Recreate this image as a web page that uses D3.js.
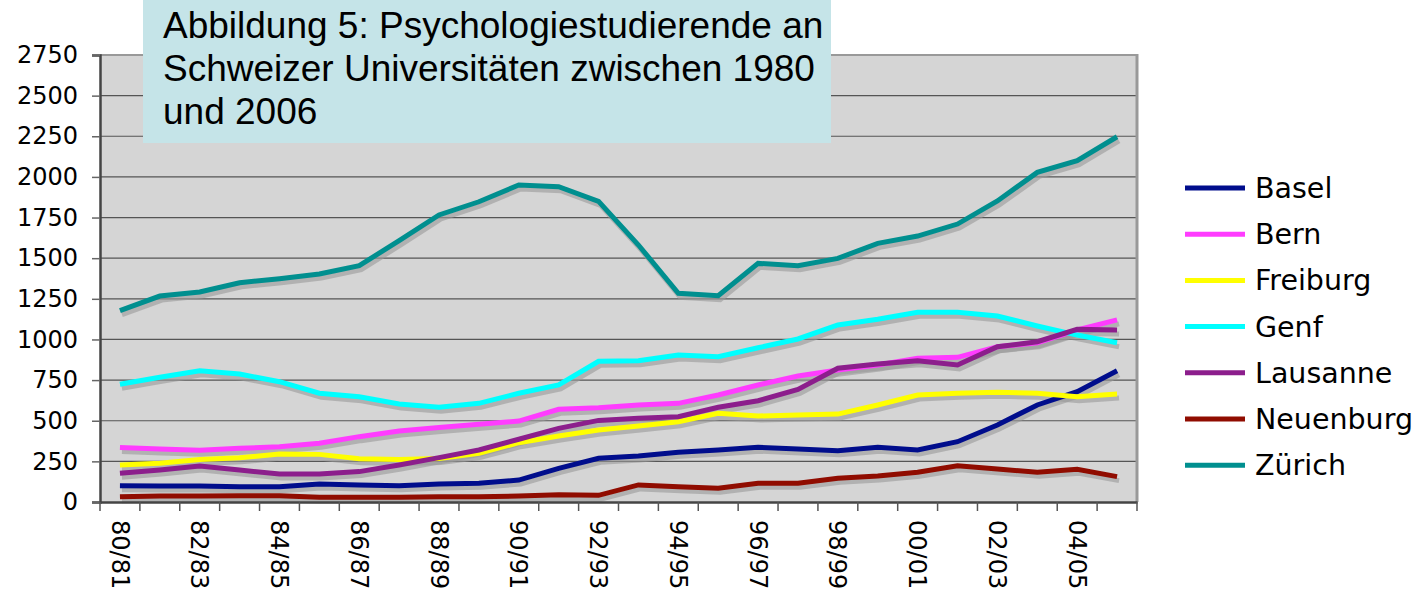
<!DOCTYPE html>
<html lang="de">
<head>
  <meta charset="UTF-8">
  <title>Psychologiestudierende</title>
  <script src="https://d3js.org/d3.v7.min.js"></script>
  <style>
    body { margin: 0; background: #fff; overflow: hidden; }
    svg { display: block; }
    .tick text { font-family: "DejaVu Sans", Verdana, sans-serif; fill: #000; }
  </style>
</head>
<body>
<svg width="1421" height="601"></svg>
<script>
// Studienjahre
const years = ["80/81","81/82","82/83","83/84","84/85","85/86","86/87","87/88","88/89","89/90",
  "90/91","91/92","92/93","93/94","94/95","95/96","96/97","97/98","98/99","99/00",
  "00/01","01/02","02/03","03/04","04/05","05/06"];

const basel     = [100, 98, 98, 94, 94, 111, 105, 100, 111, 115, 135, 207, 269, 283, 306, 320, 337, 326, 316, 337, 320, 371, 474, 597, 679, 808];
const bern      = [336, 326, 318, 330, 340, 361, 402, 437, 459, 478, 498, 570, 580, 597, 607, 658, 720, 775, 812, 843, 884, 890, 955, 980, 1058, 1120];
const freiburg  = [227, 238, 262, 272, 295, 293, 266, 262, 268, 299, 365, 406, 443, 467, 494, 546, 529, 535, 541, 597, 658, 669, 675, 669, 648, 664];
const genf      = [724, 767, 808, 787, 740, 669, 648, 603, 583, 607, 669, 720, 866, 869, 904, 894, 949, 1003, 1089, 1124, 1167, 1167, 1144, 1083, 1027, 980];
const lausanne  = [177, 197, 221, 197, 172, 172, 187, 228, 273, 320, 386, 453, 502, 515, 525, 583, 623, 693, 823, 849, 869, 843, 955, 986, 1062, 1058];
const neuenburg = [33, 37, 37, 39, 39, 29, 29, 29, 33, 33, 37, 45, 41, 105, 94, 84, 115, 115, 146, 160, 183, 223, 203, 183, 201, 156];
const zuerich   = [1177, 1267, 1292, 1349, 1374, 1403, 1454, 1608, 1766, 1847, 1950, 1940, 1850, 1581, 1284, 1269, 1468, 1454, 1499, 1591, 1636, 1710, 1852, 2028, 2100, 2247];

const yTicks = [0, 250, 500, 750, 1000, 1250, 1500, 1750, 2000, 2250, 2500, 2750];
const titleLines = ["Abbildung 5: Psychologiestudierende an", "Schweizer Universitäten zwischen 1980", "und 2006"];

const series = [
  { name: "Basel", values: basel, color: "#000d8c" },
  { name: "Bern", values: bern, color: "#ff3cff" },
  { name: "Freiburg", values: freiburg, color: "#ffff00" },
  { name: "Genf", values: genf, color: "#00ffff" },
  { name: "Lausanne", values: lausanne, color: "#8c1e8c" },
  { name: "Neuenburg", values: neuenburg, color: "#900c00" },
  { name: "Zürich", values: zuerich, color: "#008f8f" }
];

const svg = d3.select("svg");
const plotL = 100, plotR = 1137, plotT = 55, plotB = 502;

const x = d3.scaleBand().domain(years).range([plotL, plotR]);
const y = d3.scaleLinear().domain([0, 2750]).range([plotB, plotT]);

// Plotfläche
svg.append("rect")
  .attr("x", plotL).attr("y", plotT)
  .attr("width", plotR - plotL).attr("height", plotB - plotT)
  .attr("fill", "#d5d5d5");

// Gitterlinien
svg.append("g")
  .selectAll("line")
  .data(yTicks.slice(1))
  .enter().append("line")
  .attr("x1", plotL).attr("x2", plotR)
  .attr("y1", d => y(d)).attr("y2", d => y(d))
  .attr("stroke", d => d === 2750 ? "#999" : "#555")
  .attr("stroke-width", d => d === 2750 ? 2 : 1.2);

// rechter Rand
svg.append("line")
  .attr("x1", plotR).attr("x2", plotR)
  .attr("y1", plotT - 1).attr("y2", plotB)
  .attr("stroke", "#999").attr("stroke-width", 3);

const line = d3.line()
  .x((d, i) => x(years[i]) + x.bandwidth() / 2)
  .y(d => y(d));

// Schatten
svg.append("g")
  .attr("transform", "translate(2,4)")
  .selectAll("path")
  .data(series)
  .enter().append("path")
  .attr("d", d => line(d.values))
  .attr("fill", "none")
  .attr("stroke", "#999")
  .attr("stroke-opacity", 0.6)
  .attr("stroke-width", 5);

// Linien
svg.append("g")
  .selectAll("path")
  .data(series)
  .enter().append("path")
  .attr("d", d => line(d.values))
  .attr("fill", "none")
  .attr("stroke", d => d.color)
  .attr("stroke-width", 5)
  .attr("stroke-linejoin", "miter");

// y-Achse
const yAxis = svg.append("g")
  .attr("transform", `translate(${plotL},0)`)
  .call(d3.axisLeft(y).tickValues(yTicks).tickFormat(d3.format("d")).tickSize(8).tickPadding(14));
yAxis.selectAll("text").attr("font-size", 24);
yAxis.select(".domain").attr("stroke", "#444").attr("stroke-width", 2.5);
yAxis.selectAll(".tick line").attr("stroke", "#666").attr("stroke-width", 1.5);

// x-Achse
const xAxis = svg.append("g")
  .attr("transform", `translate(0,${plotB})`)
  .call(d3.axisBottom(x).tickSize(0).tickFormat((d, i) => i % 2 === 0 ? d : ""));
xAxis.select(".domain").attr("stroke", "#444").attr("stroke-width", 2.5);
xAxis.selectAll("text")
  .attr("font-size", 24)
  .attr("text-anchor", "start")
  .attr("transform", "rotate(90)")
  .attr("x", 18).attr("y", 0).attr("dy", "0.35em");

// Teilstriche zwischen den Kategorien
svg.append("g")
  .selectAll("line")
  .data(years.concat(["end"]))
  .enter().append("line")
  .attr("x1", (d, i) => plotL + i * x.bandwidth())
  .attr("x2", (d, i) => plotL + i * x.bandwidth())
  .attr("y1", plotB).attr("y2", plotB + 9)
  .attr("stroke", "#555").attr("stroke-width", 1.5);

// Titelkasten
svg.append("rect")
  .attr("x", 143).attr("y", 0)
  .attr("width", 688).attr("height", 143)
  .attr("fill", "#c5e4e8");

svg.append("g")
  .selectAll("text")
  .data(titleLines)
  .enter().append("text")
  .attr("x", 163)
  .attr("y", (d, i) => 38 + i * 43)
  .attr("font-family", "'Liberation Sans', Arial, sans-serif")
  .attr("font-size", 37)
  .attr("fill", "#000")
  .text(d => d);

// Legende
const legend = svg.append("g")
  .selectAll("g")
  .data(series)
  .enter().append("g")
  .attr("transform", (d, i) => `translate(1185,${188 + i * 46.2})`);

legend.append("line")
  .attr("x1", 0).attr("x2", 60)
  .attr("stroke", d => d.color)
  .attr("stroke-width", 5);

legend.append("text")
  .attr("x", 70)
  .attr("dy", "0.35em")
  .attr("font-family", "'DejaVu Sans', Verdana, sans-serif")
  .attr("font-size", 28.5)
  .text(d => d.name);
</script>
</body>
</html>
